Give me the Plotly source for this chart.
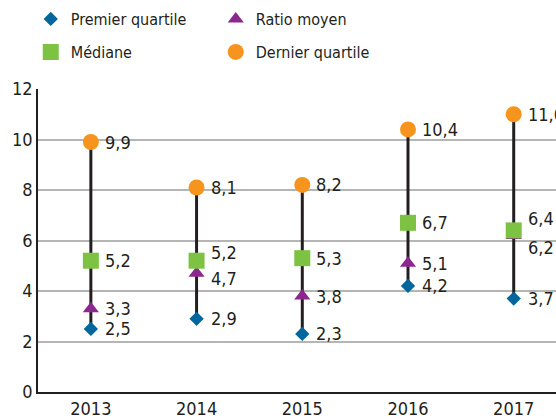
import plotly.graph_objects as go

years = ["2013", "2014", "2015", "2016", "2017"]
premier_quartile = [2.5, 2.9, 2.3, 4.2, 3.7]
ratio_moyen = [3.3, 4.7, 3.8, 5.1, 6.2]
mediane = [5.2, 5.2, 5.3, 6.7, 6.4]
dernier_quartile = [9.9, 8.1, 8.2, 10.4, 11.0]
y_ticks = [0, 2, 4, 6, 8, 10, 12]

FONT = "DejaVu Sans Condensed, Liberation Sans, sans-serif"
TXT = "#231f20"

# label vertical nudges (px) to avoid overlaps
med_shift = [0, 8, 0, 0, 12]
rat_shift = [0, -5, 0, 0, -12]

def fmt(v):
    return f"{v:.1f}".replace(".", ",")

lx, ly = [], []
for yr, lo, hi in zip(years, premier_quartile, dernier_quartile):
    lx += [yr, yr, None]
    ly += [lo, hi, None]

fig = go.Figure()
fig.add_trace(go.Scatter(x=lx, y=ly, mode="lines", line=dict(color=TXT, width=3),
                         showlegend=False, hoverinfo="skip"))

series = [
    ("Premier quartile", premier_quartile, dict(symbol="diamond", size=11, color="#00669e"), "legend", [0]*5),
    ("Ratio moyen", ratio_moyen, dict(symbol="triangle-up", size=14, color="#8c278f"), "legend", rat_shift),
    ("Médiane", mediane, dict(symbol="square", size=16, color="#7dc242"), "legend2", med_shift),
    ("Dernier quartile", dernier_quartile, dict(symbol="circle", size=16, color="#f7941d"), "legend2", [0]*5),
]

annotations = []
for name, vals, mk, leg, shifts in series:
    fig.add_trace(go.Scatter(x=years, y=vals, mode="markers", name=name, marker=mk,
                             legend=leg, cliponaxis=False))
    for i, (v, s) in enumerate(zip(vals, shifts)):
        annotations.append(dict(x=i, y=v, xref="x", yref="y", text=fmt(v), showarrow=False,
                                xanchor="left", yanchor="middle", xshift=12, yshift=s,
                                font=dict(family=FONT, size=18, color=TXT)))

legend_common = dict(orientation="h", xanchor="left", yanchor="middle",
                     font=dict(family=FONT, size=16, color=TXT),
                     entrywidth=140, entrywidthmode="pixels", bgcolor="rgba(0,0,0,0)")

fig.update_layout(
    width=556, height=419,
    margin=dict(l=38, r=0, t=89, b=27, autoexpand=False),
    paper_bgcolor="white", plot_bgcolor="white",
    font=dict(family=FONT, color=TXT),
    legend=dict(x=-0.014, y=1.231, **legend_common),
    legend2=dict(x=-0.014, y=1.122, **legend_common),
    annotations=annotations,
    xaxis=dict(type="category", range=[-0.5, 4.4], showgrid=False, showline=True,
               linecolor=TXT, linewidth=1.5, ticks="", tickfont=dict(family=FONT, size=18, color=TXT)),
    yaxis=dict(range=[0, 12], tickvals=y_ticks, showgrid=True, gridcolor="#b5b5b5", gridwidth=1.5,
               showline=True, linecolor=TXT, linewidth=1.5, ticks="", zeroline=False,
               tickfont=dict(family=FONT, size=18, color=TXT)),
    showlegend=True,
)

fig.write_html("out.html", config={"displayModeBar": False},
               post_script="document.body.style.margin='0';document.body.style.overflow='hidden';")
